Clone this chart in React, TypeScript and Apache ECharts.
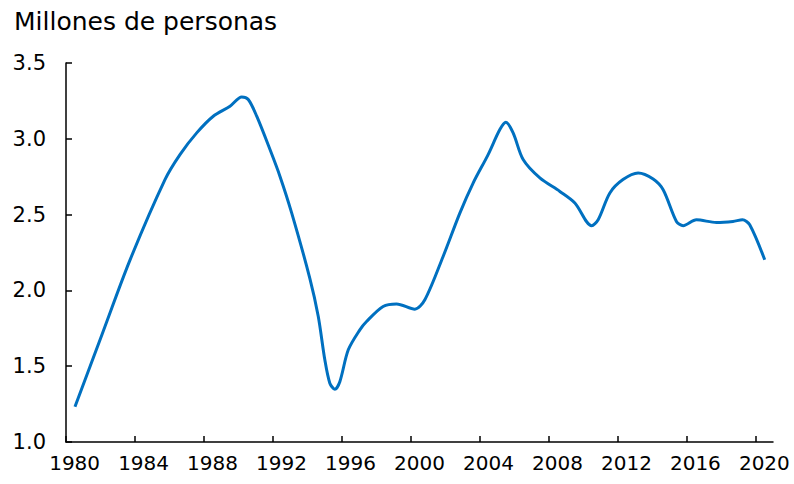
import React, { useEffect, useRef } from "react";
import * as echarts from "echarts";

const years = [
  1980.52, 1982.1, 1983.71, 1985.74, 1986.61, 1987.58, 1988.54, 1989.51,
  1990.19, 1990.57, 1991.06, 1991.83, 1992.41, 1993.09, 1994.14, 1994.63, 1995.01,
  1995.3, 1995.59, 1995.88, 1996.37, 1997.04, 1997.43,
  1998.39, 1999.17, 2000.23, 2000.81, 2001.87, 2002.84, 2003.61, 2004.48, 2005.16, 2005.51,
  2005.93, 2006.51, 2007.48, 2008.64, 2009.51, 2010.48, 2010.86, 2011.54, 2012.3, 2013.18,
  2014.05, 2014.63, 2015.4, 2015.79, 2016.56, 2017.72, 2018.68, 2019.23, 2019.65, 2020.52,
];
const values = [
  1.233, 1.713, 2.2, 2.731, 2.896, 3.039, 3.149, 3.215,
  3.276, 3.259, 3.149, 2.929, 2.752, 2.51, 2.08, 1.828, 1.542,
  1.388, 1.348, 1.398, 1.608, 1.74, 1.795,
  1.894, 1.911, 1.876, 1.938, 2.224, 2.51, 2.708, 2.896, 3.061, 3.109,
  3.039, 2.863, 2.742, 2.653, 2.577, 2.427, 2.466, 2.643, 2.731, 2.775,
  2.735, 2.664, 2.455, 2.427, 2.466, 2.448, 2.455, 2.466, 2.433, 2.202,
];
const tickYears = [1980, 1984, 1988, 1992, 1996, 2000, 2004, 2008, 2012, 2016, 2020];
const yTicks = [1.0, 1.5, 2.0, 2.5, 3.0, 3.5];
const titleText = "Millones de personas";

const FONT = "DejaVu Sans";

export default function App() {
  const ref = useRef<HTMLDivElement>(null);
  useEffect(() => {
    if (!ref.current) return;
    const chart = echarts.init(ref.current, undefined, { renderer: "svg" });
    chart.setOption({
      animation: false,
      backgroundColor: "#ffffff",
      title: {
        text: titleText,
        left: 9,
        top: 4,
        textStyle: { fontFamily: FONT, fontSize: 25, fontWeight: "normal", color: "#000" },
      },
      grid: { left: 66, right: 21, top: 63, bottom: 42 },
      xAxis: {
        type: "value",
        min: 1980,
        max: 2021,
        splitLine: { show: false },
        axisLine: { lineStyle: { color: "#000", width: 1.5 } },
        axisTick: {
          inside: true,
          length: 6,
          customValues: tickYears,
          lineStyle: { color: "#000", width: 1.5 },
        },
        axisLabel: {
          customValues: tickYears.map((y) => y + 0.5),
          formatter: (v: number) => String(Math.floor(v)),
          fontFamily: FONT,
          fontSize: 20,
          color: "#000",
          margin: 11,
        },
      },
      yAxis: {
        type: "value",
        min: 1,
        max: 3.5,
        interval: 0.5,
        splitLine: { show: false },
        axisLine: { show: true, lineStyle: { color: "#000", width: 1.5 } },
        axisTick: {
          show: true,
          inside: true,
          length: 6,
          customValues: yTicks,
          lineStyle: { color: "#000", width: 1.5 },
        },
        axisLabel: {
          formatter: (v: number) => v.toFixed(1),
          fontFamily: FONT,
          fontSize: 21,
          color: "#000",
          margin: 20,
        },
      },
      series: [
        {
          type: "line",
          data: years.map((y, i) => [y, values[i]]),
          smooth: 0.3,
          showSymbol: false,
          lineStyle: { color: "#0070C0", width: 3 },
        },
      ],
    });
    return () => chart.dispose();
  }, []);
  return <div ref={ref} style={{ width: 794, height: 484, position: "absolute", left: 0, top: 0 }} />;
}
